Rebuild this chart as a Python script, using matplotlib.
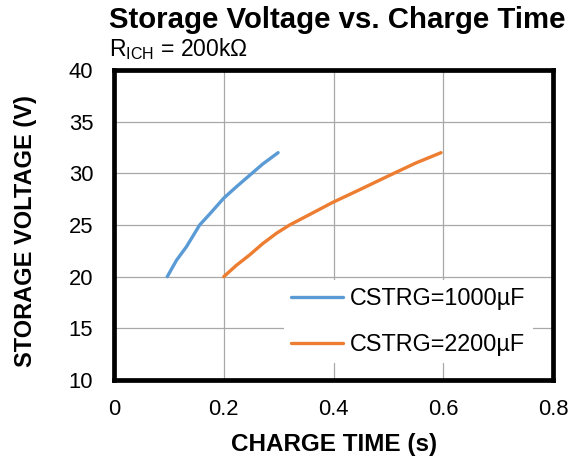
import numpy as np
import matplotlib.pyplot as plt

plt.rcParams['font.family'] = ['Liberation Sans', 'DejaVu Sans']
plt.rcParams['mathtext.default'] = 'regular'

# values
t_1000 = [0.097, 0.114, 0.132, 0.156, 0.175, 0.20, 0.223, 0.247, 0.271, 0.299]
v_1000 = [20.0, 21.6, 22.9, 25.0, 26.1, 27.6, 28.7, 29.8, 30.9, 32.0]
t_2200 = [0.20, 0.223, 0.247, 0.271, 0.296, 0.32, 0.356, 0.399, 0.447, 0.502, 0.55, 0.596]
v_2200 = [20.0, 21.1, 22.1, 23.2, 24.2, 25.0, 26.0, 27.2, 28.4, 29.8, 31.0, 32.0]

x_ticks = [0, 0.2, 0.4, 0.6, 0.8]
x_labels = ["0", "0.2", "0.4", "0.6", "0.8"]
y_ticks = [10, 15, 20, 25, 30, 35, 40]

fig = plt.figure(figsize=(5.69, 4.59), dpi=100)
ax = fig.add_axes([0.2004, 0.1721, 0.7715, 0.6754])

ax.plot(t_1000, v_1000, color="#5B9BD5", lw=2.4, label="CSTRG=1000µF", solid_capstyle="round")
ax.plot(t_2200, v_2200, color="#ED7D31", lw=2.4, label="CSTRG=2200µF", solid_capstyle="round")

ax.set_xlim(0, 0.8)
ax.set_ylim(10, 40)
ax.set_xticks(x_ticks)
ax.set_xticklabels(x_labels)
ax.set_yticks(y_ticks)
ax.tick_params(length=0, labelsize=15.8)
ax.tick_params(axis="x", pad=14)
ax.tick_params(axis="y", pad=15)
ax.grid(True, color="#a8a8a8", lw=0.9)
ax.set_axisbelow(True)
for s in ax.spines.values():
    s.set_linewidth(3.4)
    s.set_color("black")

ax.set_xlabel("CHARGE TIME (s)", fontsize=17.5, fontweight="bold")
ax.set_ylabel("STORAGE VOLTAGE (V)", fontsize=17, fontweight="bold")
ax.xaxis.set_label_coords(0.502, -0.17)
ax.yaxis.set_label_coords(-0.175, 0.48)

leg = ax.legend(loc="lower right", bbox_to_anchor=(0.954, 0.054), fontsize=16.8,
                frameon=True, framealpha=1, edgecolor="white", fancybox=False,
                handlelength=2.25, handletextpad=0.3, borderaxespad=0,
                borderpad=0.3, labelspacing=1.0)
leg.get_frame().set_linewidth(0)

fig.text(0.192, 1 - 28.5 / 459, "Storage Voltage vs. Charge Time", fontsize=21.2,
         fontweight="bold", va="baseline", ha="left")
fig.text(0.192, 1 - 56.5 / 459, r"R$_{ICH}$ = 200kΩ", fontsize=16.5,
         va="baseline", ha="left")

fig.savefig("out.png", dpi=100)
